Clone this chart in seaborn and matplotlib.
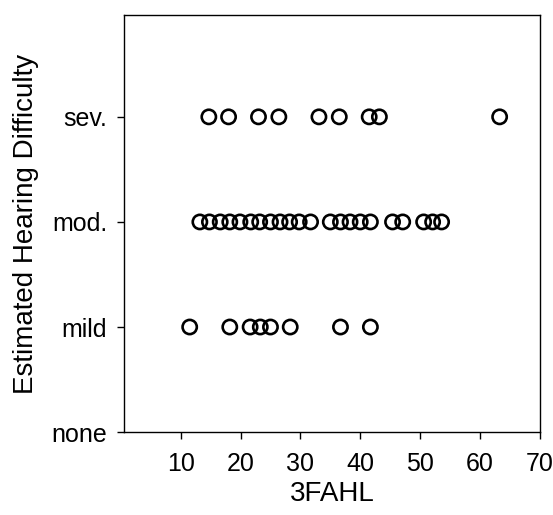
import numpy as np
import pandas as pd
import matplotlib
matplotlib.use('Agg')
import matplotlib.pyplot as plt
import seaborn as sns

# Difficulty categories (bottom to top)
levels = ['none', 'mild', 'mod.', 'sev.']

# 3FAHL values, per difficulty group
mild_vals = [11.5, 18.2, 21.6, 23.3, 25.0, 28.3, 36.7, 41.7]
mod_vals = [13.2, 14.8, 16.6, 18.2, 19.9, 21.7, 23.2, 25.0, 26.6, 28.2, 29.8, 31.7,
            35.0, 36.7, 38.3, 40.0, 41.7,
            45.4, 47.1,
            50.6, 52.1, 53.6]
sev_vals = [14.7, 18.0, 23.0, 26.4, 33.1, 36.5, 41.5, 43.2, 63.3]

df = pd.DataFrame({
    '3FAHL': mild_vals + mod_vals + sev_vals,
    'level': ['mild'] * len(mild_vals) + ['mod.'] * len(mod_vals) + ['sev.'] * len(sev_vals),
})
df['y'] = df['level'].map({name: i for i, name in enumerate(levels)})

sns.set_style('ticks')
plt.rcParams['font.family'] = ['Liberation Sans', 'DejaVu Sans']
plt.rcParams['text.color'] = 'black'
plt.rcParams['axes.labelcolor'] = 'black'

fig = plt.figure(figsize=(5.53, 5.15), dpi=100)
ax = fig.add_axes([0.224, 0.161, 0.752, 0.81])

sns.scatterplot(data=df, x='3FAHL', y='y', ax=ax, marker='o', s=105,
                facecolors='none', edgecolor='black', linewidth=1.9, legend=False)

ax.set_xlim(0.5, 70)
ax.set_ylim(0, 3.97)
ax.set_xticks([10, 20, 30, 40, 50, 60, 70])
ax.set_yticks(range(len(levels)))
ax.set_yticklabels(levels)
ax.tick_params(axis='both', direction='out', length=5, width=1, labelsize=18,
               colors='black', labelcolor='black')
ax.tick_params(axis='x', pad=9)
ax.tick_params(axis='y', pad=7)

for side in ['left', 'right', 'top', 'bottom']:
    ax.spines[side].set_visible(True)
    ax.spines[side].set_color('black')
    ax.spines[side].set_linewidth(1)

ax.set_xlabel('3FAHL', fontsize=20, labelpad=4, color='black')
ax.set_ylabel('Estimated Hearing Difficulty', fontsize=20, labelpad=9, color='black')

fig.savefig('out.png', dpi=100)
